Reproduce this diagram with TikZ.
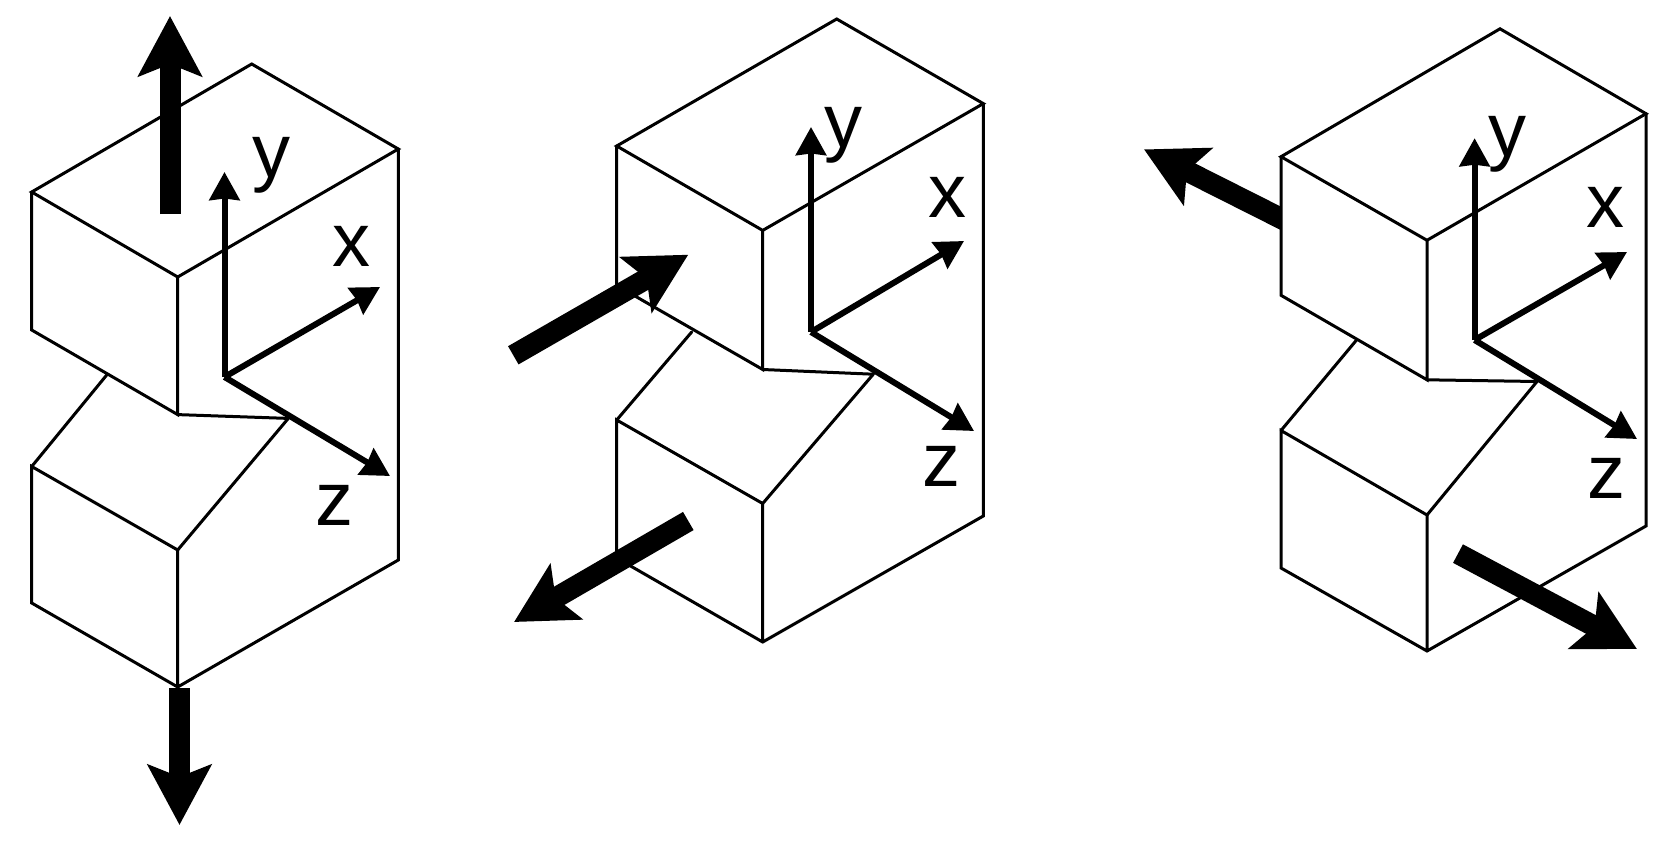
\documentclass[tikz,border=0pt]{standalone}
\usepackage{fontspec}
\setmainfont{Liberation Sans}
\usetikzlibrary{arrows.meta}
\tikzset{
  edge/.style={draw=black,line width=3pt,line join=miter,line cap=round},
  axis/.style={draw=black,line width=6pt,-{Stealth[length=28pt,width=30pt,inset=1.5pt]}},
  force/.style={draw=black,line width=21pt,-{Stealth[length=60pt,width=63pt,inset=12pt]}},
  letter/.style={inner sep=0pt,font=\fontsize{76}{76}\selectfont}
}
\begin{document}
\begin{tikzpicture}[x=1pt,y=-1pt]
\useasboundingbox[fill=white] (0,0) rectangle (1678,844);
% ---------- left block
\coordinate (a1) at (31.7,192);   \coordinate (b1) at (251.7,64);
\coordinate (c1) at (398.3,149);  \coordinate (d1) at (177.7,277);
\coordinate (e1) at (31.7,330);   \coordinate (f1) at (177.7,414.6);
\coordinate (g1) at (288.3,418.4);\coordinate (h1) at (106.7,375);
\coordinate (l1) at (31.7,466.5); \coordinate (p1) at (177.7,550);
\coordinate (q1) at (177.7,687);  \coordinate (r1) at (398.3,560);
\coordinate (s1) at (31.7,603);
\draw[edge] (a1)--(b1)--(c1)--(d1)--cycle;
\draw[edge] (a1)--(e1)--(f1)--(d1);
\draw[edge] (f1)--(g1);
\draw[edge] (c1)--(r1)--(q1)--(s1)--(l1)--(p1)--(q1);
\draw[edge] (l1)--(h1);
\draw[edge] (p1)--(g1);
\coordinate (o1) at (224.5,377);  \coordinate (ty1) at (224.5,172);
\coordinate (tx1) at (380,287);\coordinate (tz1) at (390,476);
\draw[axis] (o1)--(ty1);
\draw[axis] (o1)--(tx1);
\draw[axis] (o1)--(tz1);
\node[letter] (ly1) at (271.5,165) {y};
\node[letter] (lx1) at (351.7,246) {x};
\node[letter] (lz1) at (334.5,505) {z};
\coordinate (fa1) at (170,214);   \coordinate (fb1) at (170,16);
\coordinate (fc1) at (179.5,688); \coordinate (fd1) at (179.5,825);
\draw[force] (fa1)--(fb1);
\draw[force] (fc1)--(fd1);
% ---------- middle block
\coordinate (a2) at (616.7,146);  \coordinate (b2) at (836.7,19);
\coordinate (c2) at (983.3,103.6);\coordinate (d2) at (762.7,230.4);
\coordinate (e2) at (616.7,285.5);\coordinate (f2) at (762.7,369.5);
\coordinate (g2) at (873.3,374.2);\coordinate (h2) at (691.7,332);
\coordinate (l2) at (616.7,420);  \coordinate (p2) at (762.7,503.5);
\coordinate (q2) at (762.7,642);  \coordinate (r2) at (983.3,516);
\coordinate (s2) at (616.7,558);
\draw[edge] (a2)--(b2)--(c2)--(d2)--cycle;
\draw[edge] (a2)--(e2)--(f2)--(d2);
\draw[edge] (f2)--(g2);
\draw[edge] (c2)--(r2)--(q2)--(s2)--(l2)--(p2)--(q2);
\draw[edge] (l2)--(h2);
\draw[edge] (p2)--(g2);
\coordinate (o2) at (811,332);    \coordinate (ty2) at (811,127);
\coordinate (tx2) at (964,241);   \coordinate (tz2) at (974,431);
\draw[axis] (o2)--(ty2);
\draw[axis] (o2)--(tx2);
\draw[axis] (o2)--(tz2);
\node[letter] (ly2) at (843,135) {y};
\node[letter] (lx2) at (947.7,197) {x};
\node[letter] (lz2) at (941.5,466.5) {z};
\coordinate (fa2) at (513.3,355.3);\coordinate (fb2) at (688.3,254.7);
\coordinate (fc2) at (688.3,521);  \coordinate (fd2) at (514,622);
\draw[force] (fa2)--(fb2);
\draw[force] (fc2)--(fd2);
% ---------- right block
\coordinate (a3) at (1281,156.7); \coordinate (b3) at (1500,28.8);
\coordinate (c3) at (1646,113.7); \coordinate (d3) at (1427,240.3);
\coordinate (e3) at (1281,295.3); \coordinate (f3) at (1427,379.8);
\coordinate (g3) at (1537,381.5); \coordinate (h3) at (1356.3,340.3);
\coordinate (l3) at (1281,430.5); \coordinate (p3) at (1427,515);
\coordinate (q3) at (1427,651);   \coordinate (r3) at (1646,526);
\coordinate (s3) at (1281,568);
\coordinate (fa3) at (1300,228);  \coordinate (fb3) at (1144,149.4);
\draw[force] (fa3)--(fb3);
\fill[white] (a3)--(e3)--(f3)--(d3)--cycle;
\draw[edge] (a3)--(b3)--(c3)--(d3)--cycle;
\draw[edge] (a3)--(e3)--(f3)--(d3);
\draw[edge] (f3)--(g3);
\draw[edge] (c3)--(r3)--(q3)--(s3)--(l3)--(p3)--(q3);
\draw[edge] (l3)--(h3);
\draw[edge] (p3)--(g3);
\coordinate (o3) at (1474.6,340); \coordinate (ty3) at (1474.6,138.2);
\coordinate (tx3) at (1627,252);\coordinate (tz3) at (1637,439);
\draw[axis] (o3)--(ty3);
\draw[axis] (o3)--(tx3);
\draw[axis] (o3)--(tz3);
\node[letter] (ly3) at (1507.4,144) {y};
\node[letter] (lx3) at (1605.5,207) {x};
\node[letter] (lz3) at (1606.5,478) {z};
\coordinate (fc3) at (1458,553.6);\coordinate (fd3) at (1637,649);
\draw[force] (fc3)--(fd3);
\end{tikzpicture}
\end{document}
